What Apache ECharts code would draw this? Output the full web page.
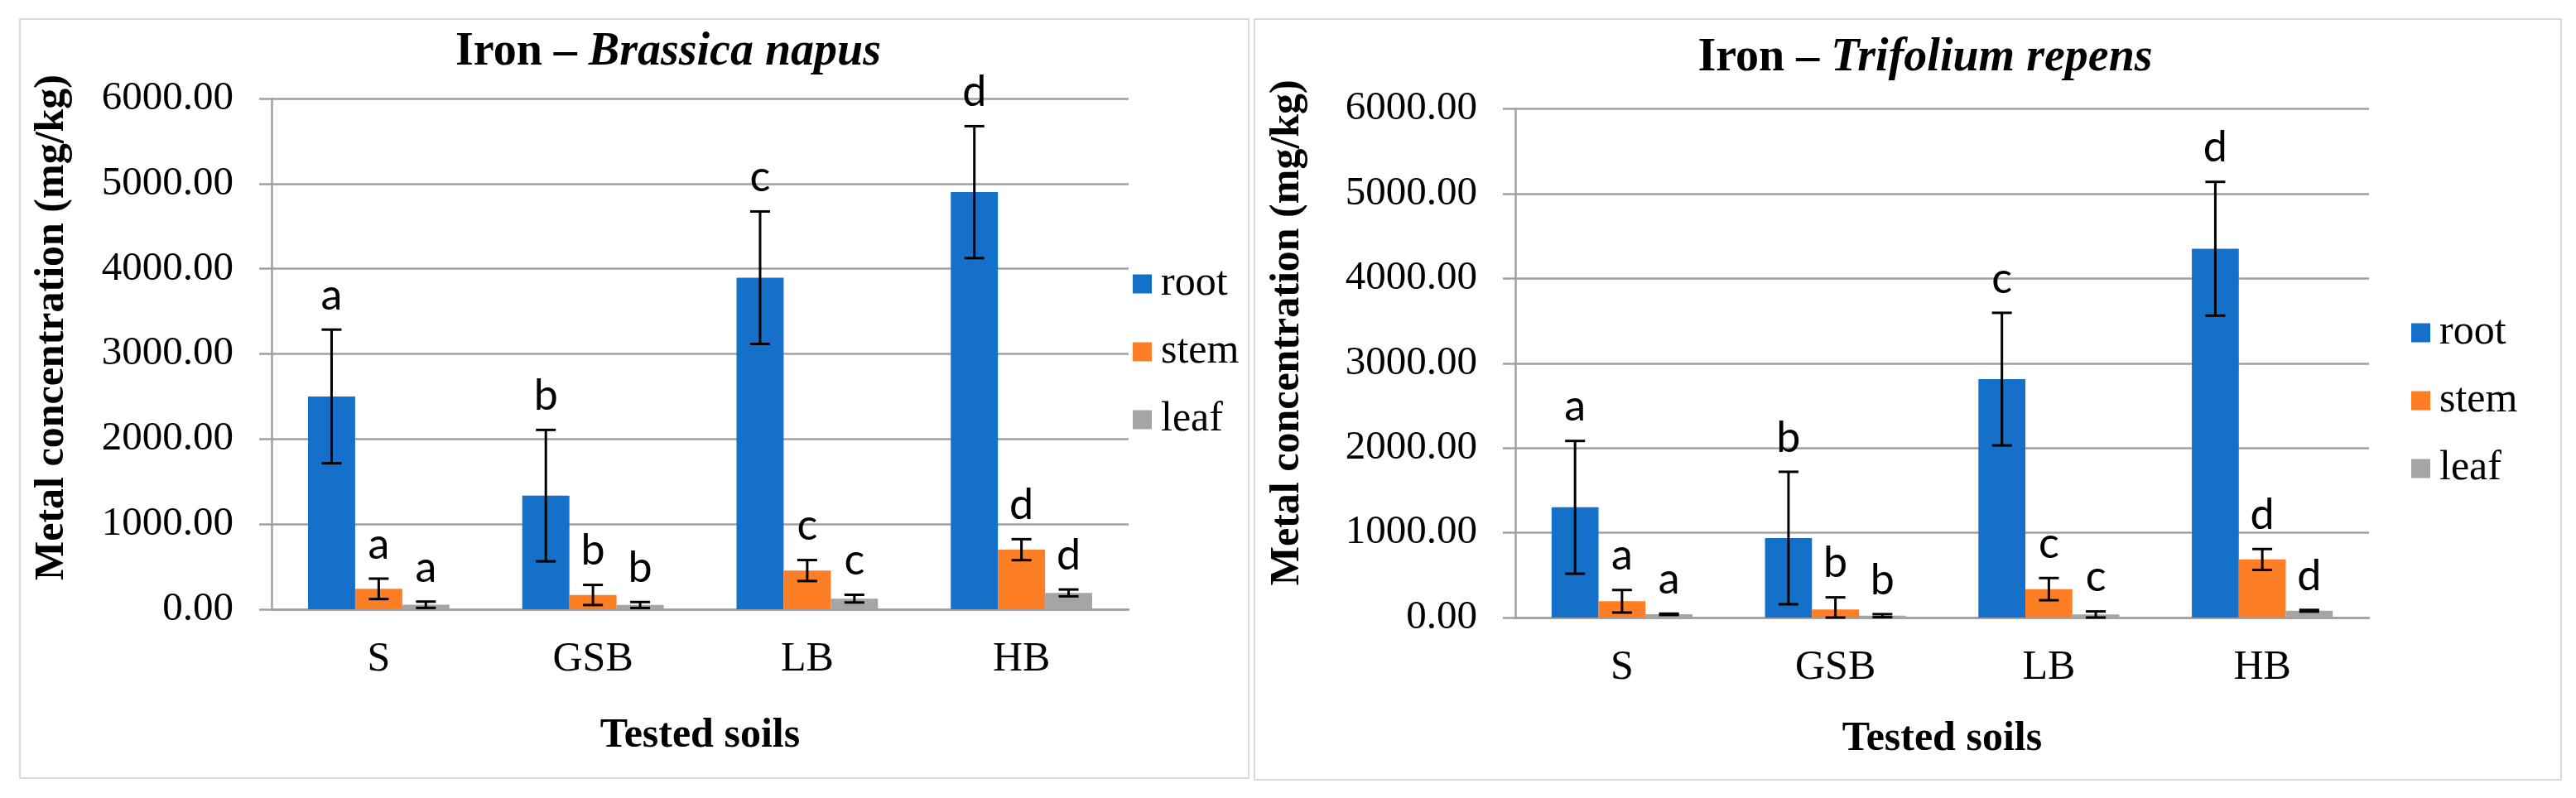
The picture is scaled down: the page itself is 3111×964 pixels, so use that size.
<!DOCTYPE html>
<html>
<head>
<meta charset="utf-8">
<title>Iron</title>
<script src="https://cdn.jsdelivr.net/npm/echarts@6/dist/echarts.min.js"></script>
<style>
  html, body { margin: 0; padding: 0; background: #fff; }
  #chart { width: 3111px; height: 964px; }
</style>
</head>
<body>
<div id="chart"></div>
<script>
  // soils on the x axis
  const soils = ['S', 'GSB', 'LB', 'HB'];
  const organs = ['root', 'stem', 'leaf'];

  // Brassica napus, mg/kg, mean and +/- error
  const brassicaRoot = [2500, 1335, 3895, 4900];
  const brassicaRootErr = [785, 772, 778, 775];
  const brassicaStem = [240, 168, 455, 700];
  const brassicaStemErr = [120, 118, 123, 123];
  const brassicaLeaf = [53, 50, 125, 192];
  const brassicaLeafErr = [37, 35, 45, 40];

  // Trifolium repens, mg/kg
  const trifoliumRoot = [1300, 938, 2812, 4350];
  const trifoliumRootErr = [783, 781, 782, 789];
  const trifoliumStem = [192, 95, 335, 685];
  const trifoliumStemErr = [133, 143, 131, 123];
  const trifoliumLeaf = [38, 22, 36, 80];
  const trifoliumLeafErr = [8, 18, 36, 10];

  // significance letters
  const rootLetters = ['a', 'b', 'c', 'd'];
  const stemLetters = ['a', 'b', 'c', 'd'];
  const leafLetters = ['a', 'b', 'c', 'd'];

  const colors = ['#1570c9', '#fd7e24', '#a5a5a5'];
  const serif = 'Liberation Serif';
  const gridGray = '#a0a0a0';
  const catGap = 0.34;

  // error bar + letter, k = position of the bar in its group
  function errorSeries(name, gridIdx, k, values, errs, letters) {
    return {
      name: name,
      type: 'custom',
      xAxisIndex: gridIdx,
      yAxisIndex: gridIdx,
      z: 5,
      silent: true,
      data: values.map((v, i) => [i, v, errs[i]]),
      renderItem: function (params, api) {
        const cat = api.value(0), v = api.value(1), e = api.value(2);
        const band = api.size([1, 0])[0];
        const barW = band * (1 - catGap) / 3;
        const cx = api.coord([cat, 0])[0] + (k - 1) * barW;
        const top = api.coord([cat, v + e])[1];
        const bot = api.coord([cat, Math.max(0, v - e)])[1];
        const cap = 12;
        const ls = { stroke: '#000', lineWidth: 3 };
        return {
          type: 'group',
          children: [
            { type: 'line', shape: { x1: cx, y1: top, x2: cx, y2: bot }, style: ls },
            { type: 'line', shape: { x1: cx - cap, y1: top, x2: cx + cap, y2: top }, style: ls },
            { type: 'line', shape: { x1: cx - cap, y1: bot, x2: cx + cap, y2: bot }, style: ls },
            {
              type: 'text', x: cx, y: top - 15,
              style: {
                text: letters[params.dataIndex], fill: '#000',
                font: '52px Lato, "Noto Sans", sans-serif',
                textAlign: 'center', textVerticalAlign: 'bottom'
              }
            }
          ]
        };
      }
    };
  }

  function barSeries(name, gridIdx, k, values) {
    return {
      name: name,
      type: 'bar',
      xAxisIndex: gridIdx,
      yAxisIndex: gridIdx,
      data: values,
      barGap: '0%',
      barCategoryGap: (catGap * 100) + '%',
      itemStyle: { color: colors[k] }
    };
  }

  function xAxisOf(gridIdx, nameGap) {
    return {
      type: 'category',
      gridIndex: gridIdx,
      data: soils,
      axisLine: { lineStyle: { color: gridGray, width: 2.5 } },
      axisTick: { length: 16, lineStyle: { color: gridGray, width: 2.5 } },
      axisLabel: { margin: 36, color: '#000', fontFamily: serif, fontSize: 50 },
      name: 'Tested soils',
      nameLocation: 'middle',
      nameGap: nameGap,
      nameTextStyle: { color: '#000', fontFamily: serif, fontSize: 50, fontWeight: 'bold' }
    };
  }

  function yAxisOf(gridIdx, nameGap, shift) {
    return {
      type: 'value',
      gridIndex: gridIdx,
      min: 0,
      max: 6000,
      interval: 1000,
      axisLine: { show: true, lineStyle: { color: gridGray, width: 2.5 } },
      axisTick: { show: true, length: 15, lineStyle: { color: gridGray, width: 2.5 } },
      splitLine: { lineStyle: { color: gridGray, width: 2.5 } },
      axisLabel: {
        margin: 46, color: '#000', fontFamily: serif, fontSize: 49,
        formatter: v => v.toFixed(2)
      },
      name: 'Metal concentration (mg/kg)',
      nameLocation: 'middle',
      nameRotate: 90,
      nameGap: nameGap,
      nameTextStyle: {
        color: '#000', fontFamily: serif, fontSize: 50, fontWeight: 'bold',
        padding: [0, 0, 0, shift]
      }
    };
  }

  function legendOf(left, top) {
    return {
      orient: 'vertical',
      left: left,
      top: top,
      icon: 'rect',
      itemWidth: 23,
      itemHeight: 23,
      itemGap: 32,
      itemStyle: { borderWidth: 0 },
      textStyle: { color: '#000', fontFamily: serif, fontSize: 50, padding: [0, 0, 0, 6] },
      data: organs
    };
  }

  function titleText(x, y, species) {
    return {
      type: 'text', x: x, y: y,
      style: {
        text: '{n|Iron – }{i|' + species + '}',
        textAlign: 'center', textVerticalAlign: 'middle',
        rich: {
          n: { fontFamily: serif, fontSize: 56, fontWeight: 'bold', fill: '#000' },
          i: { fontFamily: serif, fontSize: 56, fontWeight: 'bold', fontStyle: 'italic', fill: '#000' }
        }
      }
    };
  }

  let myChart = echarts.init(document.getElementById('chart'));
  let option = {
    animation: false,
    backgroundColor: '#fff',
    graphic: [
      { type: 'rect', shape: { x: 24, y: 23, width: 1484, height: 917 }, style: { fill: null, stroke: '#dadada', lineWidth: 2 } },
      { type: 'rect', shape: { x: 1515, y: 23, width: 1578, height: 919 }, style: { fill: null, stroke: '#dadada', lineWidth: 2 } },
      titleText(807, 64, 'Brassica napus'),
      titleText(2325, 71, 'Trifolium repens')
    ],
    legend: [legendOf(1363, 313), legendOf(2907, 372)],
    grid: [
      { left: 328, top: 119, width: 1035, height: 617 },
      { left: 1830, top: 131.5, width: 1031, height: 614.5 }
    ],
    xAxis: [xAxisOf(0, 128), xAxisOf(1, 122)],
    yAxis: [yAxisOf(0, 240, 64), yAxisOf(1, 250, 74)],
    series: [
      barSeries('root', 0, 0, brassicaRoot),
      barSeries('stem', 0, 1, brassicaStem),
      barSeries('leaf', 0, 2, brassicaLeaf),
      errorSeries('root', 0, 0, brassicaRoot, brassicaRootErr, rootLetters),
      errorSeries('stem', 0, 1, brassicaStem, brassicaStemErr, stemLetters),
      errorSeries('leaf', 0, 2, brassicaLeaf, brassicaLeafErr, leafLetters),
      barSeries('root', 1, 0, trifoliumRoot),
      barSeries('stem', 1, 1, trifoliumStem),
      barSeries('leaf', 1, 2, trifoliumLeaf),
      errorSeries('root', 1, 0, trifoliumRoot, trifoliumRootErr, rootLetters),
      errorSeries('stem', 1, 1, trifoliumStem, trifoliumStemErr, stemLetters),
      errorSeries('leaf', 1, 2, trifoliumLeaf, trifoliumLeafErr, leafLetters)
    ]
  };
  myChart.setOption(option);
</script>
</body>
</html>
